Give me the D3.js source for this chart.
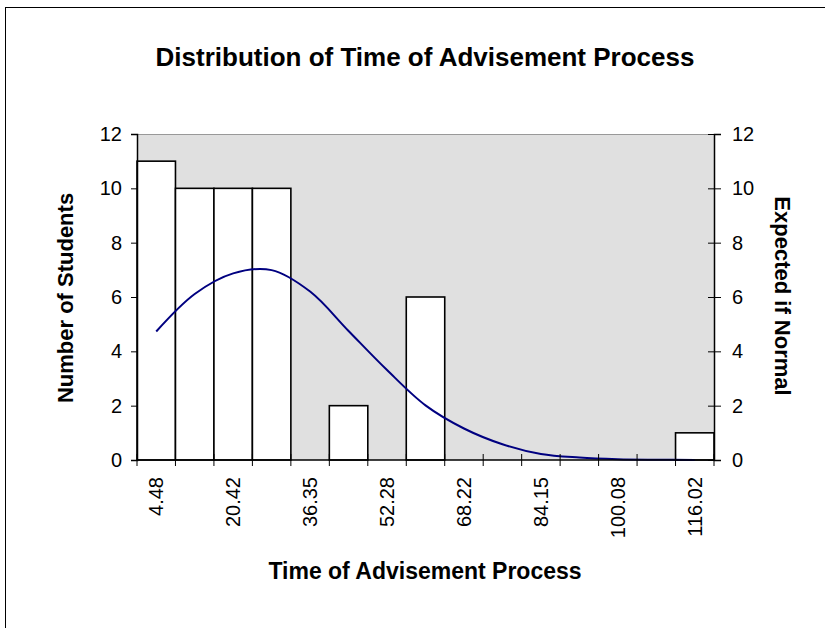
<!DOCTYPE html>
<html lang="en">
<head>
<meta charset="UTF-8">
<title>chart</title>
<style>
  body { margin: 0; background: #fff; }
  text { font-family: "Liberation Sans", Arial, sans-serif; fill: #000; }
</style>
</head>
<body>
<script src="https://cdn.jsdelivr.net/npm/d3@7"></script>
<script>
// bins (category labels), only every other one is printed on the axis
const bins = ['4.48', '12.45', '20.42', '28.38', '36.35', '44.32', '52.28', '60.25',
  '68.22', '76.18', '84.15', '92.12', '100.08', '108.05', '116.02'];
const students = [11, 10, 10, 10, 0, 2, 0, 6, 0, 0, 0, 0, 0, 0, 1]; // bar heights
const expected = [4.73, 6.11, 6.87, 6.99, 6.2, 4.75, 3.31, 2.01, 1.16, 0.58, 0.22, 0.09, 0.03, 0.01, 0.0];
const yTicks = [0, 2, 4, 6, 8, 10, 12];

const width = 825;
const height = 628;
const plotL = 137, plotR = 714, plotT = 134, plotB = 460;

const svg = d3.select('body').append('svg')
  .attr('width', width)
  .attr('height', height);

// outer chart frame (right and bottom edges fall outside the picture)
svg.append('rect')
  .attr('x', 5.5).attr('y', 7.5)
  .attr('width', 840).attr('height', 640)
  .attr('fill', '#fff').attr('stroke', '#000').attr('stroke-width', 1);

const x = d3.scaleBand().domain(bins).range([plotL, plotR]).padding(0);
const y = d3.scaleLinear().domain([0, 12]).range([plotB, plotT]);
const y2 = d3.scaleLinear().domain([0, 12]).range([plotB, plotT]);

// plot area
svg.append('rect')
  .attr('x', plotL).attr('y', plotT)
  .attr('width', plotR - plotL).attr('height', plotB - plotT)
  .attr('fill', '#e0e0e0');
svg.append('line')
  .attr('x1', plotL).attr('x2', plotR).attr('y1', plotT + 0.5).attr('y2', plotT + 0.5)
  .attr('stroke', '#999').attr('stroke-width', 1);

// bars
svg.selectAll('rect.bar')
  .data(students.map((v, i) => ({ bin: bins[i], v })).filter(d => d.v > 0))
  .enter().append('rect')
  .attr('class', 'bar')
  .attr('x', d => x(d.bin))
  .attr('y', d => y(d.v))
  .attr('width', x.bandwidth())
  .attr('height', d => y(0) - y(d.v))
  .attr('fill', '#fff')
  .attr('stroke', '#000')
  .attr('stroke-width', 1.6);

// expected-if-normal curve
const line = d3.line()
  .x((d, i) => x(bins[i]) + x.bandwidth() / 2)
  .y(d => y2(d))
  .curve(d3.curveCatmullRom);
svg.append('path')
  .datum(expected)
  .attr('d', line)
  .attr('fill', 'none')
  .attr('stroke', '#000080')
  .attr('stroke-width', 2);

// left axis
const gl = svg.append('g')
  .attr('transform', `translate(${plotL},0)`)
  .call(d3.axisLeft(y).tickValues(yTicks).tickSize(6).tickPadding(9));
// right axis, ticks cross the line
const gr = svg.append('g')
  .attr('transform', `translate(${plotR},0)`)
  .call(d3.axisRight(y2).tickValues(yTicks).tickSize(7).tickPadding(11));
gr.selectAll('.tick line').attr('x1', -6);

// bottom axis: labels at bin centres, ticks on bin edges
const gb = svg.append('g')
  .attr('transform', `translate(0,${plotB})`)
  .call(d3.axisBottom(x).tickSize(0).tickFormat((d, i) => i % 2 === 0 ? d : ''));
gb.selectAll('.tick text')
  .attr('transform', 'rotate(-90)')
  .attr('text-anchor', 'end')
  .attr('x', -17)
  .attr('y', 0)
  .attr('dy', '0.35em');
const edges = bins.map(b => x(b)).concat([x.range()[1]]);
gb.selectAll('line.edge')
  .data(edges)
  .enter().append('line')
  .attr('class', 'edge')
  .attr('x1', d => d).attr('x2', d => d)
  .attr('y1', -6).attr('y2', 6)
  .attr('stroke', '#000');

[gl, gr, gb].forEach(g => {
  g.selectAll('.domain').attr('stroke', '#000').attr('stroke-width', 1.5);
  g.selectAll('.tick line').attr('stroke', '#000');
  g.selectAll('text').attr('font-size', 20).attr('font-family', '"Liberation Sans", Arial, sans-serif').attr('fill', '#000');
});
gb.select('.domain').attr('d', `M${plotL},0H${plotR}`);

// titles
svg.append('text')
  .attr('x', 425).attr('y', 66)
  .attr('text-anchor', 'middle')
  .attr('font-size', 26).attr('font-weight', 'bold')
  .text('Distribution of Time of Advisement Process');

svg.append('text')
  .attr('x', 425).attr('y', 579)
  .attr('text-anchor', 'middle')
  .attr('font-size', 23).attr('font-weight', 'bold')
  .text('Time of Advisement Process');

svg.append('text')
  .attr('transform', 'translate(73,298) rotate(-90)')
  .attr('text-anchor', 'middle')
  .attr('font-size', 22).attr('font-weight', 'bold')
  .text('Number of Students');

svg.append('text')
  .attr('transform', 'translate(775,296) rotate(90)')
  .attr('text-anchor', 'middle')
  .attr('font-size', 22).attr('font-weight', 'bold')
  .text('Expected if Normal');
</script>
</body>
</html>
